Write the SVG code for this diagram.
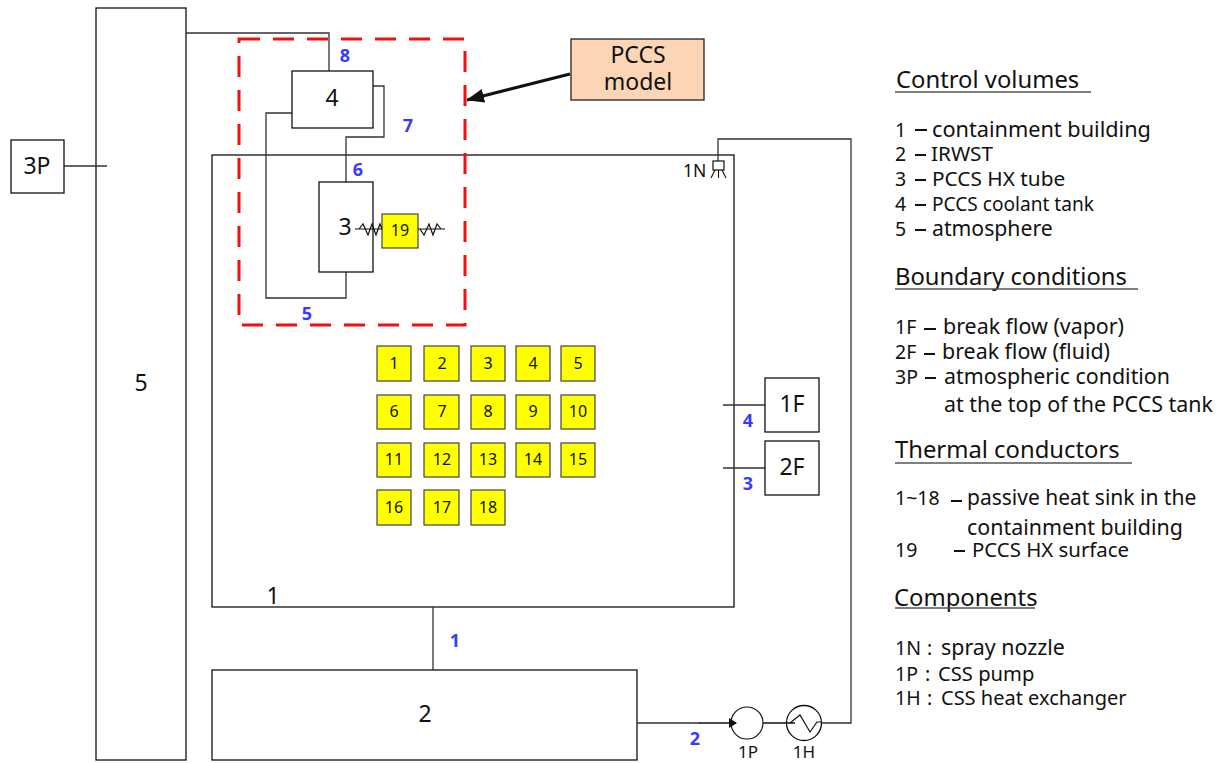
<svg xmlns="http://www.w3.org/2000/svg" width="1222" height="763" viewBox="0 0 1222 763">
<style>
text{font-family:"Noto Sans","Open Sans","DejaVu Sans",sans-serif;fill:#111}
.box{fill:#fff;stroke:#111;stroke-width:1.3}
.ln{fill:none;stroke:#333;stroke-width:1.3}
.ht{fill:#ffff00;stroke:#444;stroke-width:1.2}
.n{font-size:16px;text-anchor:middle}
.b{font-size:23px;text-anchor:middle}
.c{font-size:18px;font-weight:700;fill:#3a3aff;text-anchor:middle}
.h{font-size:23.800px}
.t{font-size:21.400px}
.s{font-size:19.500px}
.u{stroke:#555;stroke-width:1.6;fill:none}
.d{stroke:#111;stroke-width:2;fill:none}
.r{fill:none;stroke:#111;stroke-width:1.2}
</style>
<defs>
<marker id="ah" markerWidth="8" markerHeight="10" refX="7" refY="5" orient="auto" markerUnits="userSpaceOnUse"><path d="M0 0L8 5L0 10z" fill="#111"/></marker>
<marker id="big" markerWidth="18" markerHeight="14" refX="17" refY="7" orient="auto" markerUnits="userSpaceOnUse"><path d="M0 0L18 7L0 14z" fill="#111"/></marker>
</defs>
<g id="n5"><rect class="box" x="96" y="8" width="90" height="752"/><text class="b" x="141" y="391">5</text></g>
<g id="n1"><rect class="box" x="212" y="155" width="522" height="452"/><text class="b" x="273" y="604">1</text></g>
<g id="n2"><rect class="box" x="212" y="670" width="425" height="90"/><text class="b" x="425" y="722">2</text></g>
<g id="connectors">
<path class="ln" d="M186 33H329V71"/>
<path class="ln" d="M373 86H384V137H346V182"/>
<path class="ln" d="M292 113H266V298H346V272"/>
<path class="ln" d="M64 166H107"/>
<path class="ln" d="M433 607V670"/>
<path class="ln" d="M723 405H765"/>
<path class="ln" d="M723 468H765"/>
<path class="ln" d="M637 723H700"/>
<path class="ln" d="M821 723H851V139H718V161"/>
<path d="M570 74L467 100" fill="none" stroke="#111" stroke-width="3" marker-end="url(#big)"/>
</g>
<g id="n4"><rect class="box" x="292" y="71" width="81" height="57"/><text class="b" x="332" y="106">4</text></g>
<g id="n3"><rect class="box" x="319" y="182" width="54" height="90"/><text class="b" x="345" y="235">3</text></g>
<g id="t19"><rect class="ht" x="382" y="214" width="36" height="34"/><text class="n" x="400" y="236">19</text></g>
<g id="resistors">
<path class="r" d="M355 229H382M359 229L363 224L368 235L372 224L376 235L380 224L382 229"/>
<path class="r" d="M418 229H445M420 229L424 235L429 224L433 235L437 224L441 229"/>
</g>
<g id="pccs-boundary"><rect x="239" y="39" width="226" height="286" fill="none" stroke="#f01010" stroke-width="3" stroke-dasharray="21 13"/></g>
<g id="pccs-label"><rect x="571" y="39" width="133" height="61" fill="#fbd5b5" stroke="#222" stroke-width="1.3"/><text class="b" x="638" y="63">PCCS</text><text class="b" x="638" y="90">model</text></g>
<g id="n3P"><rect class="box" x="11" y="140" width="53" height="53"/><text class="b" x="37" y="174">3P</text></g>
<g id="n1F"><rect class="box" x="765" y="378" width="54" height="54"/><text class="b" x="792" y="412">1F</text></g>
<g id="n2F"><rect class="box" x="765" y="441" width="54" height="54"/><text class="b" x="792" y="475">2F</text></g>
<g id="t1"><rect class="ht" x="377" y="346" width="34" height="35"/><text class="n" x="394" y="369">1</text></g>
<g id="t2"><rect class="ht" x="424" y="346" width="35" height="35"/><text class="n" x="442" y="369">2</text></g>
<g id="t3"><rect class="ht" x="471" y="346" width="34" height="35"/><text class="n" x="488" y="369">3</text></g>
<g id="t4"><rect class="ht" x="516" y="346" width="34" height="35"/><text class="n" x="533" y="369">4</text></g>
<g id="t5"><rect class="ht" x="561" y="346" width="34" height="35"/><text class="n" x="578" y="369">5</text></g>
<g id="t6"><rect class="ht" x="377" y="395" width="34" height="34"/><text class="n" x="394" y="417">6</text></g>
<g id="t7"><rect class="ht" x="424" y="395" width="35" height="34"/><text class="n" x="442" y="417">7</text></g>
<g id="t8"><rect class="ht" x="471" y="395" width="34" height="34"/><text class="n" x="488" y="417">8</text></g>
<g id="t9"><rect class="ht" x="516" y="395" width="34" height="34"/><text class="n" x="533" y="417">9</text></g>
<g id="t10"><rect class="ht" x="561" y="395" width="34" height="34"/><text class="n" x="578" y="417">10</text></g>
<g id="t11"><rect class="ht" x="377" y="443" width="34" height="34"/><text class="n" x="394" y="465">11</text></g>
<g id="t12"><rect class="ht" x="424" y="443" width="35" height="34"/><text class="n" x="442" y="465">12</text></g>
<g id="t13"><rect class="ht" x="471" y="443" width="34" height="34"/><text class="n" x="488" y="465">13</text></g>
<g id="t14"><rect class="ht" x="516" y="443" width="34" height="34"/><text class="n" x="533" y="465">14</text></g>
<g id="t15"><rect class="ht" x="561" y="443" width="34" height="34"/><text class="n" x="578" y="465">15</text></g>
<g id="t16"><rect class="ht" x="377" y="490" width="34" height="35"/><text class="n" x="394" y="513">16</text></g>
<g id="t17"><rect class="ht" x="424" y="490" width="35" height="35"/><text class="n" x="442" y="513">17</text></g>
<g id="t18"><rect class="ht" x="471" y="490" width="34" height="35"/><text class="n" x="488" y="513">18</text></g>
<g id="n1N"><rect x="713" y="161" width="11" height="9" fill="#fff" stroke="#111" stroke-width="1.2"/><path d="M715 170L711 178M718.500 170V178M722 170L726 178" fill="none" stroke="#111" stroke-width="1.1"/><text x="683" y="177" font-size="17.500">1N</text></g>
<g id="n1P"><circle cx="747" cy="723" r="16" fill="#fff" stroke="#111" stroke-width="1.2"/><text x="748" y="758" font-size="17" text-anchor="middle">1P</text></g>
<g id="n1H"><circle cx="804" cy="723" r="17.500" fill="#fff" stroke="#111" stroke-width="1.3"/><path d="M790 723L800 715L810 732L817 722H821" fill="none" stroke="#111" stroke-width="1.2"/><text x="804" y="758" font-size="17" text-anchor="middle">1H</text></g>
<g id="flow-overlay">
<path d="M699 723H736" fill="none" stroke="#111" stroke-width="1.5" marker-end="url(#ah)"/>
<path d="M763 723H795" fill="none" stroke="#111" stroke-width="1.5"/>
</g>
<g id="connector-labels">
<text class="c" x="345" y="62">8</text><text class="c" x="408" y="132">7</text><text class="c" x="358" y="176">6</text><text class="c" x="307" y="320">5</text><text class="c" x="748" y="427">4</text><text class="c" x="748" y="490">3</text><text class="c" x="455" y="647">1</text><text class="c" x="695" y="745">2</text>
</g>
<g id="legend">
<text class="h" x="896" y="88">Control volumes</text><path class="u" d="M895 92H1091"/>
<text class="s" x="895" y="137">1</text><path class="d" d="M915 130H927"/><text class="t" x="932" y="137" font-size="21.600" style="font-size:21.700px">containment building</text>
<text class="s" x="895" y="161">2</text><path class="d" d="M915 155H926"/><text x="931" y="161" style="font-size:20.700px">IRWST</text>
<text class="s" x="895" y="186">3</text><path class="d" d="M915 180H926"/><text x="932" y="186" style="font-size:20.800px">PCCS HX tube</text>
<text class="s" x="895" y="211">4</text><path class="d" d="M915 205H926"/><text x="932" y="211" style="font-size:19.100px">PCCS coolant tank</text>
<text class="s" x="895" y="236">5</text><path class="d" d="M915 230H926"/><text x="932" y="236" style="font-size:21.200px">atmosphere</text>
<text class="h" x="895" y="285">Boundary conditions</text><path class="u" d="M895 289H1138"/>
<text class="s" x="895" y="334">1F</text><path class="d" d="M924 329H936"/><text class="t" x="943" y="334">break flow (vapor)</text>
<text class="s" x="895" y="359">2F</text><path class="d" d="M924 354H935"/><text class="t" x="942" y="359">break flow (fluid)</text>
<text class="s" x="895" y="384">3P</text><path class="d" d="M925 378H936"/><text class="t" x="944" y="384">atmospheric condition</text>
<text class="t" x="944" y="412">at the top of the PCCS tank</text>
<text class="h" x="895" y="458">Thermal conductors</text><path class="u" d="M895 463H1132"/>
<text class="s" x="895" y="505">1~18</text><path class="d" d="M951 501H962"/><text x="967" y="505" style="font-size:21px">passive heat sink in the</text>
<text class="t" x="967" y="535">containment building</text>
<text class="s" x="895" y="557">19</text><path class="d" d="M954 551H965"/><text x="972" y="557" style="font-size:20.400px">PCCS HX surface</text>
<text class="h" x="894" y="606">Components</text><path class="u" d="M895 608H1035"/>
<text class="s" x="895" y="655">1N</text><text class="s" x="927" y="655">:</text><text class="t" x="941" y="655">spray nozzle</text>
<text class="s" x="895" y="681">1P</text><text class="s" x="925" y="681">:</text><text x="938" y="681" style="font-size:20.200px">CSS pump</text>
<text class="s" x="895" y="705">1H</text><text class="s" x="927" y="705">:</text><text x="941" y="705" style="font-size:20px">CSS heat exchanger</text>
</g>
</svg>
